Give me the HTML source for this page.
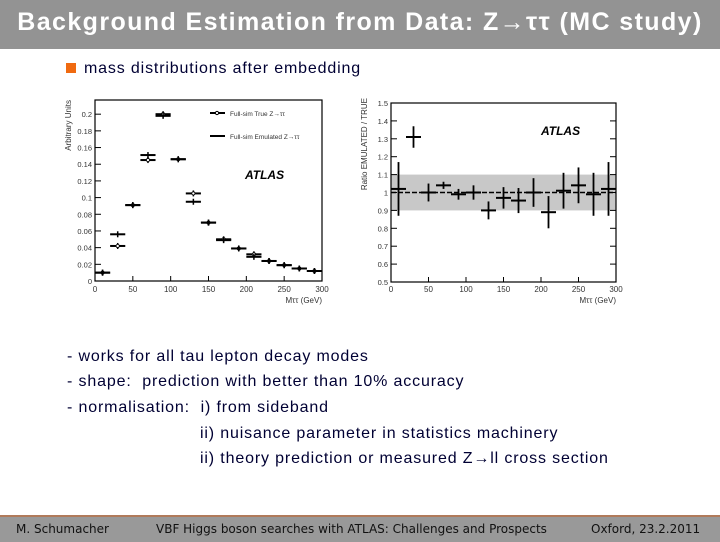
<!DOCTYPE html>
<html><head><meta charset="utf-8"><style>
body{margin:0;width:720px;height:540px;position:relative;background:#fff;overflow:hidden;font-family:"Liberation Sans",sans-serif}
.title{position:absolute;left:0;top:0;width:720px;height:49px;background:#939393;color:#fff;font-weight:bold;font-size:25px;letter-spacing:1.4px;line-height:44px;text-align:center}
.bullet{position:absolute;left:66px;top:60px;font-size:16px;letter-spacing:0.85px;color:#000033}
.bullet span{display:inline-block;width:10px;height:10px;background:#f06a10;margin-right:8px}
.bl{position:absolute;font-size:16px;letter-spacing:0.85px;color:#000033;white-space:pre}
.footer{position:absolute;left:0;top:515px;width:720px;height:25px;background:#999;border-top:2px solid #b07a5a;font-family:"DejaVu Sans",sans-serif;font-size:12px;color:#111;line-height:24px}
.footer div{position:absolute;top:0}
svg{position:absolute;left:0;top:0}
</style></head><body>
<div class="title">Background Estimation from Data: Z→ττ (MC study)</div>
<div class="bullet"><span></span>mass distributions after embedding</div>
<svg id="chart" width="720" height="540"></svg>
<div class="bl" style="left:67px;top:348px">- works for all tau lepton decay modes</div>
<div class="bl" style="left:67px;top:373px">- shape:  prediction with better than 10% accuracy</div>
<div class="bl" style="left:67px;top:399px">- normalisation:  i) from sideband</div>
<div class="bl" style="left:200px;top:425px">ii) nuisance parameter in statistics machinery</div>
<div class="bl" style="left:200px;top:450px">ii) theory prediction or measured Z→ll cross section</div>
<div class="footer">
<div style="left:16px">M. Schumacher</div>
<div style="left:156px">VBF Higgs boson searches with ATLAS: Challenges and Prospects</div>
<div style="left:591px">Oxford, 23.2.2011</div>
</div>
<script>
const centers=[10,30,50,70,90,110,130,150,170,190,210,230,250,270,290];
const trueVals=[0.01,0.042,0.091,0.145,0.2,0.146,0.105,0.07,0.05,0.039,0.032,0.024,0.019,0.015,0.012];
const emuVals=[0.01,0.056,0.091,0.151,0.198,0.146,0.095,0.07,0.049,0.039,0.029,0.024,0.019,0.015,0.012];
const ratioVals=[1.02,1.31,1.0,1.04,0.99,1.0,0.9,0.97,0.955,1.0,0.89,1.01,1.04,0.99,1.02];
const ratioErr=[0.15,0.06,0.05,0.02,0.03,0.04,0.05,0.06,0.07,0.08,0.09,0.1,0.1,0.12,0.15];
const xTicks=[0,50,100,150,200,250,300];
const leftYTicks=[0,0.02,0.04,0.06,0.08,0.1,0.12,0.14,0.16,0.18,0.2];
const rightYTicks=[0.5,0.6,0.7,0.8,0.9,1,1.1,1.2,1.3,1.4,1.5];
const NS='http://www.w3.org/2000/svg';
const svg=document.getElementById('chart');
function el(t,a,p){const e=document.createElementNS(NS,t);for(const k in a)e.setAttribute(k,a[k]);(p||svg).appendChild(e);return e;}
function txt(s,a,p){const e=el('text',a,p);e.textContent=s;return e;}
const L={x0:95,x1:322,y0:281,y1:100,ymin:0,ymax:0.217};
const lx=v=>L.x0+(v/300)*(L.x1-L.x0);
const ly=v=>L.y0-(v-L.ymin)/(L.ymax-L.ymin)*(L.y0-L.y1);
const gL=el('g',{});


el('rect',{x:L.x0,y:L.y1,width:L.x1-L.x0,height:L.y0-L.y1,fill:'none',stroke:'#000','stroke-width':1.2},gL);
xTicks.forEach(t=>{el('line',{x1:lx(t),x2:lx(t),y1:L.y0,y2:L.y0-5,stroke:'#000'},gL);
 const tl=txt(t,{x:lx(t),y:L.y0+11,'font-size':8,'text-anchor':'middle',fill:'#333'},gL);
 });
leftYTicks.forEach(t=>{el('line',{x1:L.x0,x2:L.x0+6,y1:ly(t),y2:ly(t),stroke:'#000'},gL);
 const tl=txt(t===0?'0':String(+t.toFixed(2)),{x:L.x0-3,y:ly(t)+3,'font-size':7.5,'text-anchor':'end',fill:'#333'},gL);
 });
const ylt=txt('Arbitrary Units',{x:0,y:0,'font-size':8,'text-anchor':'end',fill:'#333',transform:`translate(71,100) rotate(-90)`},gL);

const xlt=txt('Mττ (GeV)',{x:322,y:303,'font-size':8,'text-anchor':'end',fill:'#333'},gL);

centers.forEach((c,i)=>{
 [[trueVals[i],'true'],[emuVals[i],'emu']].forEach(([v,k])=>{
  const g=el('g',{},gL);
  
  
  el('line',{x1:lx(c-10),x2:lx(c+10),y1:ly(v),y2:ly(v),stroke:'#000','stroke-width':2},g);
  el('line',{x1:lx(c),x2:lx(c),y1:ly(v)-3,y2:ly(v)+3,stroke:'#000','stroke-width':1.5},g);
  if(k==='true')el('circle',{cx:lx(c),cy:ly(v),r:1.6,fill:'#fff',stroke:'#000','stroke-width':0.8},g);
 });
});
const lg=el('g',{},gL);
el('line',{x1:210,x2:225,y1:113,y2:113,stroke:'#000','stroke-width':2},lg);
el('circle',{cx:217,cy:113,r:1.6,fill:'#fff',stroke:'#000'},lg);
txt('Full-sim True Z→ττ',{x:230,y:116,'font-size':6.5,fill:'#333'},lg);
el('line',{x1:210,x2:225,y1:136,y2:136,stroke:'#000','stroke-width':2},lg);
txt('Full-sim Emulated Z→ττ',{x:230,y:139,'font-size':6.5,fill:'#333'},lg);
const at1=txt('ATLAS',{x:245,y:179,'font-size':12,'font-weight':'bold','font-style':'italic',fill:'#000'},gL);

const R={x0:391,x1:616,y0:282,y1:103,ymin:0.5,ymax:1.5};
const rx=v=>R.x0+(v/300)*(R.x1-R.x0);
const ry=v=>R.y0-(v-R.ymin)/(R.ymax-R.ymin)*(R.y0-R.y1);
const gR=el('g',{});


const band=el('rect',{x:R.x0,y:ry(1.1),width:R.x1-R.x0,height:ry(0.9)-ry(1.1),fill:'#c8c8c8'},gR);

el('line',{x1:R.x0,x2:R.x1,y1:ry(1),y2:ry(1),stroke:'#000','stroke-width':1.5,'stroke-dasharray':'5,2'},gR);
el('rect',{x:R.x0,y:R.y1,width:R.x1-R.x0,height:R.y0-R.y1,fill:'none',stroke:'#000','stroke-width':1.2},gR);
xTicks.forEach(t=>{el('line',{x1:rx(t),x2:rx(t),y1:R.y0,y2:R.y0-5,stroke:'#000'},gR);
 const tl=txt(t,{x:rx(t),y:R.y0+10,'font-size':8,'text-anchor':'middle',fill:'#333'},gR);
 });
rightYTicks.forEach(t=>{el('line',{x1:R.x0,x2:R.x0+6,y1:ry(t),y2:ry(t),stroke:'#000'},gR);
 el('line',{x1:R.x1,x2:R.x1-6,y1:ry(t),y2:ry(t),stroke:'#000'},gR);
 const tl=txt(String(+t.toFixed(1)),{x:R.x0-3,y:ry(t)+3,'font-size':7.5,'text-anchor':'end',fill:'#333'},gR);
 });
const ryt=txt('Ratio EMULATED / TRUE',{x:0,y:0,'font-size':8,'text-anchor':'end',fill:'#333',transform:`translate(367,98) rotate(-90)`},gR);

const rxt=txt('Mττ (GeV)',{x:616,y:303,'font-size':8,'text-anchor':'end',fill:'#333'},gR);

centers.forEach((c,i)=>{
 const g=el('g',{},gR);
 
 
 el('line',{x1:rx(c-10),x2:rx(c+10),y1:ry(ratioVals[i]),y2:ry(ratioVals[i]),stroke:'#000','stroke-width':2},g);
 el('line',{x1:rx(c),x2:rx(c),y1:ry(ratioVals[i]+ratioErr[i]),y2:ry(ratioVals[i]-ratioErr[i]),stroke:'#000','stroke-width':1.8},g);
});
const at2=txt('ATLAS',{x:541,y:135,'font-size':12,'font-weight':'bold','font-style':'italic',fill:'#000'},gR);

</script>
</body></html>
